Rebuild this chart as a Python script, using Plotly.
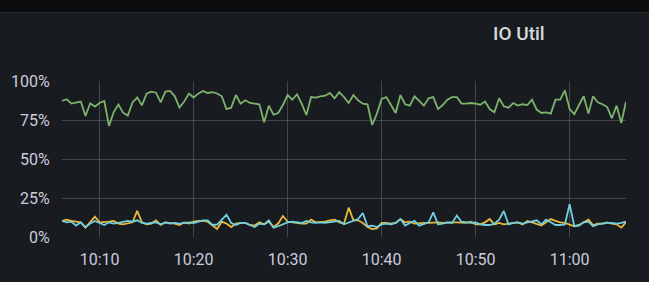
import pandas as pd
import plotly.graph_objects as go

start_time = "2023-01-01 10:06:00"
n_points = 121
times = pd.date_range(start_time, periods=n_points, freq="30s")

series_names = ["sda", "sdb", "sdc"]
series_colors = ["#7EB26D", "#EAB839", "#6ED0E0"]

util_a = [
    87.2, 88.3, 85.5, 86.3, 86.8, 77.6, 85.7, 83.6, 85.9, 87.2,
    71.2, 80.1, 84.9, 79.7, 77.8, 86.3, 89.4, 84.4, 91.9, 93.2,
    92.5, 86.3, 93.2, 93.6, 90.2, 83.0, 86.8, 91.9, 89.4, 91.9,
    93.6, 92.3, 92.8, 92.0, 90.2, 82.0, 82.9, 91.0, 85.5, 87.6,
    85.9, 85.5, 85.1, 73.5, 84.2, 78.4, 79.5, 84.6, 91.0, 88.0,
    91.5, 85.5, 78.2, 89.7, 89.3, 90.2, 90.6, 92.3, 88.9, 92.8,
    89.7, 85.9, 91.0, 87.6, 85.5, 85.1, 71.8, 79.1, 88.5, 89.7,
    84.2, 79.5, 91.0, 85.1, 84.2, 90.2, 87.2, 84.2, 88.9, 89.7,
    82.0, 84.6, 88.0, 89.7, 89.7, 85.5, 85.5, 85.9, 85.5, 84.8,
    86.8, 82.0, 79.9, 88.9, 83.8, 82.9, 85.9, 84.2, 85.1, 84.6,
    88.0, 81.7, 79.5, 79.9, 79.1, 88.0, 88.0, 94.0, 82.0, 78.7,
    84.6, 90.2, 79.1, 90.2, 86.3, 85.1, 83.3, 76.1, 84.2, 73.1,
    86.8,
]

util_b = [
    10.3, 11.1, 10.3, 9.8, 9.4, 6.0, 9.4, 13.0, 9.4, 9.4,
    9.8, 10.3, 8.6, 8.1, 8.6, 9.4, 16.7, 9.4, 8.1, 8.6,
    10.7, 7.7, 9.4, 9.0, 8.6, 7.7, 9.4, 8.6, 9.8, 10.3,
    10.3, 9.8, 7.3, 5.1, 9.8, 8.6, 6.4, 8.6, 9.0, 9.0,
    7.7, 7.3, 9.4, 8.1, 9.8, 6.4, 8.6, 13.5, 9.8, 9.4,
    8.6, 8.6, 8.6, 11.1, 9.4, 9.4, 9.8, 10.7, 11.1, 9.4,
    8.6, 18.8, 10.7, 10.7, 9.0, 6.4, 5.1, 5.5, 9.0, 9.0,
    8.6, 9.0, 11.5, 9.4, 9.8, 8.6, 9.0, 9.0, 9.0, 9.4,
    9.4, 9.0, 9.4, 9.4, 9.4, 9.4, 9.0, 9.8, 8.1, 8.1,
    9.4, 11.5, 8.1, 9.0, 8.1, 8.6, 9.0, 9.4, 8.1, 10.3,
    9.4, 8.1, 7.3, 9.4, 11.5, 10.3, 9.4, 9.0, 8.1, 6.9,
    7.7, 9.4, 11.1, 7.7, 8.6, 8.6, 9.4, 8.6, 8.1, 6.0,
    9.4,
]

util_c = [
    10.3, 9.4, 9.8, 7.3, 9.4, 6.4, 8.6, 10.3, 9.0, 7.7,
    9.4, 8.6, 9.0, 9.8, 10.3, 9.8, 10.7, 9.0, 8.6, 9.0,
    9.4, 8.1, 9.4, 8.6, 9.0, 8.6, 9.0, 9.4, 9.0, 9.8,
    10.7, 10.7, 7.7, 8.0, 11.1, 14.2, 9.0, 7.7, 9.0, 9.0,
    7.7, 6.4, 8.6, 8.1, 10.7, 6.0, 6.9, 8.1, 9.4, 9.8,
    9.4, 9.0, 10.3, 9.4, 9.0, 9.4, 9.0, 9.4, 9.8, 10.3,
    8.1, 9.4, 10.7, 11.5, 15.4, 6.9, 7.3, 6.4, 8.1, 8.6,
    8.1, 9.0, 11.5, 7.3, 9.0, 10.3, 7.3, 8.1, 9.4, 15.8,
    8.1, 8.6, 9.4, 9.0, 13.7, 9.8, 9.4, 9.0, 9.4, 8.1,
    7.7, 7.7, 8.6, 11.1, 16.7, 8.1, 9.0, 9.4, 8.6, 9.4,
    10.3, 10.7, 8.1, 11.1, 9.4, 7.7, 7.7, 8.1, 21.0, 6.9,
    7.3, 9.4, 9.8, 6.9, 8.1, 8.6, 9.0, 9.0, 8.6, 9.0,
    9.8,
]

y_ticks = [0, 25, 50, 75, 100]
y_tick_labels = ["0%", "25%", "50%", "75%", "100%"]
title_text = "IO Util"

BG = "#181b1f"
TEXT = "#ccccdc"
GRID = "rgba(204,204,220,0.24)"

fig = go.Figure()
for name, color, vals in zip(series_names, series_colors, [util_a, util_b, util_c]):
    fig.add_trace(go.Scatter(x=times, y=vals, mode="lines", name=name,
                             line=dict(color=color, width=1.8), hoverinfo="skip"))

W, H = 649, 282
ml, mr, mt, mb = 62, 23, 81, 45
plot_h = H - mt - mb
plot_w = W - ml - mr

fig.update_layout(
    width=W, height=H,
    margin=dict(l=ml, r=mr, t=mt, b=mb, pad=0),
    paper_bgcolor=BG, plot_bgcolor=BG,
    showlegend=False,
    font=dict(family="Roboto, sans-serif", size=16, color=TEXT),
    xaxis=dict(
        type="date", range=[times[0], times[-1]],
        dtick=600000, tickformat="%H:%M",
        tick0="2023-01-01 10:00:00",
        showgrid=True, gridcolor=GRID, gridwidth=1,
        zeroline=False, showline=False,
        ticks="outside", ticklen=8, tickcolor="rgba(0,0,0,0)",
        tickfont=dict(size=16, color=TEXT),
    ),
    yaxis=dict(
        range=[0, 100], tickvals=y_ticks, ticktext=y_tick_labels,
        showgrid=True, gridcolor=GRID, gridwidth=1,
        zeroline=False, showline=False,
        ticks="outside", ticklen=8, tickcolor="rgba(0,0,0,0)",
        tickfont=dict(size=16, color=TEXT),
    ),
    shapes=[
        dict(type="rect", xref="paper", yref="paper",
             x0=-ml / plot_w, x1=1 + mr / plot_w,
             y0=(plot_h + mt - 12) / plot_h, y1=(plot_h + mt) / plot_h,
             fillcolor="#0c0d0f", line=dict(width=0), layer="above"),
        dict(type="line", xref="paper", yref="paper",
             x0=-ml / plot_w, x1=1 + mr / plot_w,
             y0=(plot_h + mt - 12.5) / plot_h, y1=(plot_h + mt - 12.5) / plot_h,
             line=dict(color="#2a2c31", width=1), layer="above"),
    ],
    annotations=[
        dict(text=title_text, xref="paper", yref="paper",
             x=(519 - ml) / plot_w, y=(plot_h + mt - 33) / plot_h,
             xanchor="center", yanchor="middle", showarrow=False,
             font=dict(family="Roboto, sans-serif", size=19, color="#d8d9da", weight=500)),
    ],
)

fig.write_html("out.html")
